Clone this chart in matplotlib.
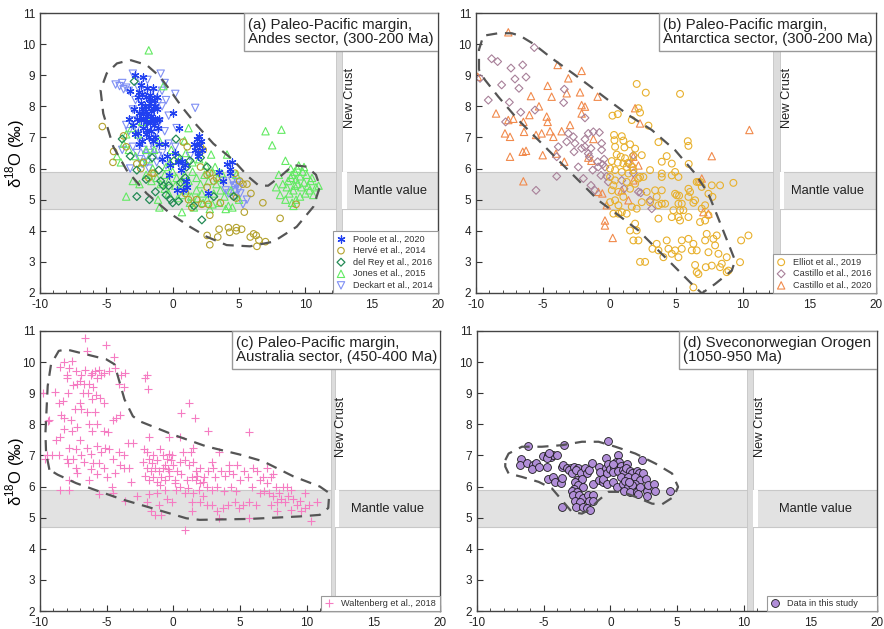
import numpy as np
import matplotlib
matplotlib.use("Agg")
import matplotlib.pyplot as plt
from matplotlib.patches import Rectangle
from matplotlib.ticker import MultipleLocator

plt.rcParams['font.family'] = ['Liberation Sans', 'DejaVu Sans']
plt.rcParams['axes.unicode_minus'] = False
plt.rcParams['mathtext.fontset'] = 'custom'
plt.rcParams['mathtext.rm'] = 'Liberation Sans'

# ---------------- panel (a) Andes sector ----------------
poole = [(-2.8, 9.0), (-2.2, 8.95), (-3.2, 8.5), (-2.6, 8.3), (-2.3, 8.4), (-2.0, 8.3), (-1.7, 8.35),
         (-1.4, 8.2), (-2.4, 8.1), (-2.1, 8.0), (-1.8, 8.0), (-1.5, 7.95), (-1.2, 7.9), (-2.5, 7.8),
         (-2.2, 7.75), (-1.9, 7.7), (-1.6, 7.7), (-1.3, 7.6), (-2.7, 7.6), (-2.4, 7.55), (-2.0, 7.5),
         (-1.7, 7.45), (-1.4, 7.4), (-2.2, 7.3), (-1.9, 7.25), (-1.6, 7.2), (-1.1, 7.3), (-3.0, 7.4),
         (-2.6, 7.15), (-1.8, 7.0), (-1.5, 8.6), (-1.9, 8.6), (-2.4, 8.7), (-1.2, 8.3), (-1.0, 7.6),
         (-1.3, 7.0), (-1.0, 6.8), (0.0, 7.8), (0.5, 7.3), (-0.4, 6.4), (-0.6, 6.8), (-0.2, 6.1),
         (0.4, 6.2), (0.7, 6.25), (0.9, 6.1), (0.6, 5.95), (1.0, 5.6), (0.8, 5.3), (1.6, 6.8),
         (1.8, 6.95), (2.0, 6.75), (1.9, 6.5), (1.9, 6.4), (2.1, 6.9), (2.2, 6.6), (1.7, 6.6),
         (2.0, 7.05), (3.5, 5.9), (4.1, 6.15), (4.3, 6.0), (4.5, 6.2), (4.3, 5.85), (3.8, 5.6),
         (-2.9, 7.9), (-3.3, 7.6), (-1.7, 8.1), (-2.3, 7.9), (-1.5, 7.55), (-2.0, 7.85), (-2.8, 7.1),
         (-2.5, 6.8), (-0.8, 6.3), (-1.5, 6.9), (-2.3, 6.9), (0.2, 6.5), (-0.3, 5.8), (0.3, 5.3),
         (2.7, 5.2), (1.1, 5.4), (-1.8, 8.25), (-2.1, 7.6), (-1.6, 7.85), (-2.5, 8.45), (-1.3, 8.0),
         (-2.0, 7.1), (-1.2, 7.55)]
herve = [(-5.3, 7.35), (-4.45, 6.55), (-4.5, 6.2), (-3.7, 7.05), (-3.5, 6.7), (-2.7, 6.15), (-2.4, 6.0),
         (-2.2, 6.2), (-1.8, 5.7), (-1.55, 5.85), (-1.4, 5.85), (0.8, 6.85), (1.1, 6.7), (2.1, 6.7),
         (2.3, 6.6), (2.1, 6.05), (2.6, 5.8), (2.8, 5.85), (3.1, 5.6), (3.3, 5.7), (2.6, 5.4),
         (0.95, 5.2), (1.2, 5.0), (1.45, 4.75), (1.8, 5.0), (2.2, 4.85), (2.7, 4.85), (2.8, 4.5),
         (3.6, 4.9), (4.6, 5.1), (4.7, 5.85), (4.8, 5.05), (5.05, 5.6), (5.3, 5.5), (5.4, 4.6),
         (5.6, 5.5), (5.9, 5.2), (6.8, 4.9), (8.1, 4.4), (9.3, 4.85), (2.6, 3.85), (2.8, 3.55),
         (3.4, 3.8), (3.5, 4.05), (4.2, 4.1), (4.3, 3.95), (4.8, 4.1), (4.8, 4.0), (5.2, 4.05),
         (5.85, 3.8), (6.1, 3.9), (6.3, 3.85), (6.5, 3.7), (6.35, 3.5), (7.0, 3.65)]
del_rey = [(-3.8, 6.95), (-2.7, 5.95), (-2.7, 5.1), (-1.75, 5.0), (-1.3, 5.25), (-0.7, 5.45),
           (-0.5, 5.15), (-0.15, 5.0), (0.0, 4.9), (0.45, 4.95), (0.25, 6.95), (-0.3, 5.45),
           (0.6, 5.55), (0.95, 5.7), (1.05, 6.05), (1.6, 4.8), (2.2, 4.35), (2.1, 6.35), (3.1, 5.1),
           (4.6, 5.1), (-1.55, 6.35), (-1.05, 5.95), (-0.9, 5.6), (0.1, 6.25), (0.45, 6.35),
           (1.3, 6.25), (2.6, 6.05), (-2.0, 5.65), (-2.9, 8.8), (-3.2, 6.4)]
jones = [(-1.8, 9.8), (-0.7, 8.65), (-2.3, 7.5), (-3.1, 7.3), (-3.7, 6.8), (-4.2, 6.4),
         (-3.9, 6.2), (-3.5, 5.1), (-3.0, 5.6), (-2.5, 5.5), (-2.0, 5.8), (-1.5, 6.0), (-1.8, 6.3),
         (-2.3, 6.2), (-2.8, 6.4), (-3.3, 6.6), (-3.5, 7.1), (-2.6, 7.1), (-1.2, 5.7), (-0.9, 5.5),
         (-0.6, 5.8), (-0.3, 5.6), (0.0, 5.9), (0.3, 5.7), (0.6, 5.5), (0.9, 5.8), (1.2, 5.6),
         (1.5, 5.9), (1.8, 5.7), (2.1, 5.5), (2.4, 5.8), (2.7, 5.6), (3.0, 5.9), (3.3, 5.5),
         (3.6, 5.3), (3.9, 5.1), (4.2, 4.8), (4.5, 4.75), (4.0, 4.7), (3.5, 4.9), (3.1, 5.2),
         (2.6, 5.0), (2.2, 5.2), (1.8, 5.3), (1.4, 5.1), (1.0, 5.3), (0.7, 5.15), (0.4, 5.05),
         (-0.3, 5.2), (-0.6, 5.35), (-1.1, 5.0), (-1.0, 4.75), (0.7, 4.6), (1.6, 4.75), (2.8, 4.7),
         (-0.2, 6.2), (0.5, 6.3), (1.0, 6.5), (1.5, 6.2), (2.0, 6.3), (2.5, 6.1), (2.9, 6.45),
         (3.2, 6.05), (3.7, 5.85), (4.1, 6.45), (4.8, 5.8), (1.2, 7.3), (0.9, 6.9), (-0.1, 6.6),
         (-1.0, 6.9), (-1.6, 7.6), (-1.4, 6.6), (-2.0, 6.6), (3.0, 4.85), (2.3, 4.9), (1.3, 4.9),
         (5.0, 5.0), (4.4, 5.3), (-1.6, 5.6), (-0.5, 6.05), (0.2, 5.45), (1.9, 5.05), (3.4, 5.7),
         (7.0, 7.2), (8.2, 7.25), (7.5, 6.75), (8.5, 6.25), (8.0, 5.8), (8.3, 5.5), (8.6, 5.4),
         (8.9, 5.7), (9.2, 5.9), (9.5, 6.1), (9.8, 5.9), (10.1, 5.8), (10.4, 5.6), (10.8, 5.4),
         (8.8, 5.2), (9.1, 5.3), (9.4, 5.5), (9.7, 5.4), (10.0, 5.2), (10.3, 5.3), (9.0, 4.9),
         (9.3, 5.0), (9.6, 5.1), (8.5, 5.0), (8.7, 5.6), (9.0, 5.8), (9.3, 5.65), (9.6, 5.75),
         (9.9, 5.55), (10.2, 5.45), (10.5, 5.7), (9.4, 6.0), (8.9, 6.0), (9.1, 4.8), (7.8, 5.4),
         (8.1, 5.15), (10.6, 5.15), (11.0, 5.45), (9.9, 6.05), (9.2, 5.45)]
deckart = [(-3.0, 9.05), (-3.8, 8.75), (-3.5, 8.6), (-3.3, 8.5), (-3.7, 8.55), (-2.4, 8.8), (-1.9, 8.85),
           (-0.9, 9.05), (-0.6, 8.75), (0.2, 8.4), (1.7, 7.95), (-3.0, 7.9), (-3.5, 7.4), (-3.3, 7.2),
           (-0.5, 8.2), (-0.8, 8.0), (-0.3, 7.7), (0.3, 7.3), (-1.0, 7.5), (-3.0, 6.7), (-2.7, 6.5),
           (-2.2, 6.6), (-2.0, 6.4), (-1.7, 6.5), (-1.4, 6.6), (-1.1, 6.4), (-0.8, 6.5), (-2.5, 6.3),
           (-1.9, 6.2), (-1.2, 6.2), (-0.5, 6.1), (-2.4, 6.85), (-1.6, 6.85), (-3.8, 6.6), (-3.2, 6.0),
           (0.7, 6.0), (1.3, 6.4), (4.2, 5.2), (4.6, 5.45), (4.7, 5.3), (4.8, 5.45), (5.1, 5.2),
           (4.9, 5.55), (5.3, 4.85), (5.6, 5.0), (4.7, 5.1), (4.5, 5.6), (3.8, 5.6), (4.0, 5.3),
           (5.0, 5.35), (-2.0, 8.5), (-2.6, 8.6), (-1.3, 8.4), (-0.8, 8.5), (-1.1, 8.1), (-2.8, 8.2),
           (-3.0, 7.55), (-2.7, 7.3), (-1.3, 7.1), (-0.6, 7.2), (0.2, 6.7), (-0.3, 6.8), (-4.3, 8.7),
           (-4.0, 8.65), (-1.8, 6.0), (-2.3, 6.15)]
env_a = [(-3.2, 9.49), (-1.96, 9.33), (-0.95, 8.95), (-0.2, 8.52), (0.68, 7.99), (1.8, 7.4), (3.07, 6.8),
         (4.57, 6.27), (5.7, 5.74), (6.5, 5.45), (7.2, 5.45), (8.1, 5.74), (9.1, 6.11), (10.1, 6.06),
         (10.8, 5.8), (11.1, 5.42), (10.6, 4.77), (9.35, 4.13), (7.6, 3.65), (5.83, 3.5), (4.07, 3.54),
         (2.56, 3.81), (1.3, 4.13), (-0.2, 4.56), (-1.96, 5.2), (-3.47, 5.95), (-4.47, 6.7),
         (-5.23, 7.77), (-5.43, 8.52), (-4.97, 9.06), (-4.2, 9.38), (-3.2, 9.49)]

# ---------------- panel (b) Antarctica sector ----------------
elliot = [(2.05, 8.72), (2.73, 8.44), (5.3, 8.4), (0.23, 7.7), (0.63, 7.75), (2.3, 7.8), (1.68, 7.56),
          (2.93, 7.38), (2.18, 7.94), (0.35, 7.08), (0.93, 7.04), (0.38, 6.91), (1.05, 6.9), (0.43, 6.7),
          (1.13, 6.68), (1.55, 6.78), (1.93, 6.64), (2.43, 6.43), (1.8, 6.4), (0.55, 6.45), (0.85, 6.38),
          (1.18, 6.33), (0.18, 6.24), (0.63, 6.19), (1.05, 6.16), (1.43, 6.19), (1.73, 6.05), (0.05, 6.0),
          (0.43, 5.95), (0.93, 5.89), (1.43, 5.84), (1.8, 5.95), (2.3, 5.73), (3.05, 5.95), (0.05, 5.73),
          (0.43, 5.62), (1.3, 5.57), (1.93, 5.51), (2.18, 5.68), (2.55, 5.73), (0.3, 5.46), (0.18, 5.3),
          (0.68, 5.25), (1.05, 5.09), (1.55, 5.35), (0.43, 4.98), (0.05, 4.92), (0.68, 4.82), (0.3, 4.55),
          (0.68, 4.55), (0.93, 4.6), (1.3, 4.55), (1.68, 4.77), (2.05, 4.71), (2.43, 4.92), (3.05, 4.92),
          (3.43, 5.3), (3.55, 5.09), (3.93, 4.87), (4.18, 4.87), (3.68, 4.39), (1.55, 4.01), (1.93, 4.23),
          (2.05, 4.01), (2.18, 3.69), (1.8, 3.69), (2.3, 3.0), (2.68, 3.0), (3.23, 3.42), (3.55, 3.58),
          (3.68, 3.37), (4.05, 3.15), (4.43, 3.42), (4.68, 3.26), (4.93, 3.37), (5.18, 3.15), (4.3, 3.69),
          (5.43, 3.69), (5.43, 3.42), (5.93, 3.74), (6.18, 3.37), (6.3, 3.58), (6.55, 3.37), (6.43, 2.9),
          (6.3, 2.18), (6.68, 2.61), (6.55, 2.67), (7.23, 2.83), (7.68, 2.88), (8.3, 2.83), (8.43, 2.94),
          (8.18, 3.26), (8.8, 3.15), (8.93, 2.72), (8.8, 2.67), (7.93, 3.53), (7.43, 3.31), (7.18, 3.69),
          (7.3, 3.9), (7.8, 3.74), (8.05, 3.85), (9.8, 2.99), (9.88, 3.69), (10.43, 3.85), (3.93, 6.22),
          (4.68, 6.16), (3.93, 5.73), (3.93, 5.84), (3.93, 5.3), (3.68, 4.82), (4.68, 5.78), (4.93, 5.19),
          (5.05, 5.14), (5.23, 5.13), (5.18, 4.87), (5.43, 4.87), (5.3, 4.66), (5.55, 4.66), (5.18, 4.44),
          (4.8, 4.66), (4.68, 4.44), (5.3, 4.33), (5.93, 5.35), (6.05, 5.25), (5.93, 5.09), (5.93, 4.44),
          (6.43, 4.98), (6.68, 5.57), (6.55, 5.57), (6.8, 5.57), (6.93, 5.41), (6.93, 4.71), (6.8, 4.28),
          (7.18, 4.33), (7.18, 4.82), (7.73, 5.09), (7.43, 4.5), (8.3, 5.46), (9.3, 5.54), (5.88, 6.88),
          (5.93, 6.73), (5.95, 6.15), (3.68, 6.85), (5.18, 5.73), (6.3, 4.9), (7.43, 5.19), (7.68, 5.46),
          (4.3, 6.4), (4.93, 5.89), (2.8, 5.25), (1.3, 6.05)]
castillo16 = [(-5.63, 9.89), (-8.83, 9.53), (-8.38, 9.44), (-7.38, 9.23), (-6.5, 9.33), (-6.25, 8.94),
              (-7.08, 8.88), (-6.78, 8.58), (-8.08, 8.69), (-9.08, 8.2), (-7.5, 8.13), (-6.65, 7.81),
              (-5.58, 7.88), (-3.38, 8.55), (-3.43, 8.12), (-7.78, 7.5), (-1.83, 7.63), (-3.08, 7.13),
              (-2.7, 7.02), (-3.2, 6.86), (-2.58, 6.81), (-1.58, 7.13), (-1.2, 7.18), (-0.75, 7.16),
              (-1.83, 6.94), (-2.08, 6.65), (-1.83, 6.7), (-1.38, 6.65), (-1.58, 6.48), (-1.5, 6.38),
              (-3.83, 6.7), (-3.95, 6.38), (-2.65, 6.54), (-2.33, 6.05), (-1.95, 5.68), (-3.95, 5.75),
              (-5.5, 5.3), (-1.38, 5.46), (-0.58, 6.81), (-0.58, 6.6), (-0.88, 6.22), (-0.5, 6.13),
              (-0.83, 6.05), (-0.33, 6.05), (-0.63, 5.78), (-0.2, 5.75), (-0.08, 5.57), (-1.08, 5.3),
              (1.8, 6.43), (1.43, 6.16), (1.8, 5.86), (0.93, 5.62), (2.18, 5.25), (2.35, 5.22),
              (3.05, 4.98), (3.18, 4.71), (1.1, 5.35), (-1.25, 5.95), (-9.7, 8.9), (-0.4, 6.3)]
castillo20 = [(-7.58, 10.38), (-9.87, 8.95), (-3.88, 9.33), (-2.08, 9.14), (-3.08, 8.9), (-3.2, 8.42),
              (-4.63, 8.66), (-4.33, 8.31), (-5.88, 8.33), (-5.28, 8.0), (-6.0, 7.72), (-6.45, 7.5),
              (-8.5, 7.77), (-7.58, 7.56), (-7.2, 7.6), (-7.83, 7.13), (-7.45, 7.02), (-6.4, 7.18),
              (-5.5, 7.08), (-5.08, 7.13), (-4.7, 7.67), (-4.63, 7.5), (-4.45, 7.2), (-4.2, 7.02),
              (-3.58, 7.2), (-2.95, 7.4), (-2.08, 7.77), (-2.08, 8.04), (-1.83, 7.99), (-0.88, 8.31),
              (-7.45, 6.38), (-6.5, 6.54), (-6.25, 6.57), (-5.0, 6.43), (-4.0, 6.48), (-3.38, 6.22),
              (-1.58, 6.35), (-6.45, 5.59), (1.93, 7.94), (2.3, 7.45), (2.18, 6.1), (-0.83, 5.25),
              (-0.53, 5.2), (-0.2, 4.82), (-0.33, 4.33), (-0.33, 4.17), (0.25, 3.77), (7.68, 6.4),
              (10.5, 7.24), (6.93, 5.68), (7.43, 4.55), (7.05, 4.6), (1.43, 4.98), (1.8, 6.38),
              (1.68, 6.16), (0.93, 5.3), (1.8, 5.62), (-1.2, 6.95), (-2.2, 8.45), (-1.35, 6.25)]
env_b = [(-9.78, 9.17), (-9.78, 9.82), (-9.45, 10.27), (-8.33, 10.35), (-7.33, 10.35), (-6.7, 10.27),
         (-5.7, 10.01), (-4.33, 9.55), (-2.58, 9.01), (-1.58, 8.69), (-0.08, 8.2), (1.43, 7.72),
         (3.18, 7.24), (4.93, 6.59), (6.43, 5.84), (7.43, 5.19), (8.43, 4.12), (9.43, 3.04),
         (9.18, 2.72), (7.93, 2.29), (6.93, 1.99), (6.18, 2.29), (4.93, 2.83), (3.43, 3.47),
         (2.18, 4.01), (0.68, 4.5), (-0.83, 4.98), (-2.08, 5.52), (-3.58, 6.16), (-5.08, 6.81),
         (-6.83, 7.56), (-8.33, 8.31), (-9.33, 8.85), (-9.78, 9.17)]

# ---------------- panel (c) Australia sector ----------------
waltenberg = [(-6.59, 10.79), (-5.03, 10.55), (-6.46, 10.36), (-4.46, 10.17),
              (-8.2, 10.0), (-7.6, 10.05), (-7.8, 9.8), (-8.5, 9.85), (-8.0, 9.6), (-7.3, 9.7), (-6.9, 9.6),
              (-6.6, 9.75), (-6.2, 9.6), (-5.9, 9.7), (-5.6, 9.75), (-5.2, 9.65), (-4.8, 9.7), (-4.4, 9.8),
              (-3.6, 9.65), (-3.9, 9.6), (-5.7, 9.5), (-6.3, 9.3), (-6.0, 9.2), (-6.7, 9.3), (-7.2, 9.3),
              (-7.5, 9.25), (-8.0, 9.5), (-7.9, 9.0), (-8.9, 9.05), (-6.8, 9.0), (-6.4, 9.0), (-5.8, 8.95),
              (-5.5, 8.85), (-5.2, 8.7), (-3.7, 9.2), (-4.1, 9.3), (-6.1, 8.8), (-7.0, 8.7), (-7.4, 8.5),
              (-6.9, 8.5), (-6.5, 8.4), (-5.9, 8.4), (-8.3, 8.75), (-8.4, 8.3), (-8.2, 8.2), (-7.7, 8.15),
              (-9.3, 8.15), (-4.3, 8.2), (-4.5, 8.15), (-4.0, 8.3), (-9.8, 9.0), (-9.4, 8.1), (-2.0, 9.6),
              (-2.1, 9.5), (-1.9, 9.15), (-6.1, 9.65), (-5.4, 9.6), (-7.0, 9.4), (-8.6, 8.7),
              (-9.5, 7.0), (-9.1, 7.0), (-8.6, 7.0), (-8.8, 7.5), (-8.5, 7.6), (-8.2, 7.85), (-7.6, 7.8),
              (-7.2, 7.9), (-7.0, 7.5), (-7.3, 7.2), (-7.8, 7.25), (-8.0, 6.9), (-7.9, 6.75), (-7.5, 6.9),
              (-7.3, 6.6), (-6.9, 7.0), (-6.5, 7.25), (-6.2, 7.05), (-6.0, 6.75), (-6.2, 6.55), (-6.7, 6.8),
              (-5.7, 7.3), (-5.4, 7.1), (-5.1, 7.25), (-4.8, 7.2), (-5.6, 6.75), (-5.2, 6.6), (-5.7, 6.4),
              (-6.1, 7.8), (-5.7, 8.0), (-5.2, 7.8), (-4.9, 7.75), (-6.3, 8.0), (-4.5, 6.9), (-4.1, 7.1),
              (-4.0, 6.7), (-4.4, 6.45), (-3.7, 6.6), (-3.7, 7.0), (-3.4, 7.4), (-3.0, 7.4), (-3.3, 6.6),
              (-3.2, 6.15), (-4.6, 6.0), (-5.0, 6.3), (-7.8, 6.2), (-7.2, 6.45), (-6.3, 6.2), (-8.5, 5.9),
              (-7.8, 5.9), (-5.6, 5.75), (-4.5, 5.8), (-3.6, 5.55), (-2.7, 5.7), (-9.6, 6.9),
              (-2.2, 7.2), (-2.0, 7.1), (-1.8, 6.9), (-1.5, 7.0), (-1.2, 6.85), (-1.0, 7.2), (-0.8, 7.0),
              (-0.5, 6.9), (-0.3, 7.05), (-2.3, 6.8), (-2.0, 6.6), (-1.7, 6.5), (-1.4, 6.6), (-1.1, 6.5),
              (-0.8, 6.6), (-0.6, 6.7), (-0.3, 6.5), (0.0, 6.7), (-2.1, 6.35), (-1.8, 6.2), (-1.5, 6.3),
              (-1.2, 6.15), (-0.9, 6.3), (-0.6, 6.2), (-0.3, 6.35), (0.1, 6.2), (0.3, 6.5), (0.5, 6.8),
              (0.7, 7.1), (0.9, 6.85), (1.2, 6.7), (1.5, 6.8), (1.7, 6.5), (2.0, 6.6), (1.4, 6.3),
              (1.7, 6.2), (2.0, 6.1), (2.3, 6.3), (2.6, 6.5), (2.9, 6.8), (2.5, 6.0), (1.1, 5.95),
              (0.5, 6.0), (0.2, 5.9), (1.5, 5.8), (1.9, 5.9), (3.1, 6.3), (3.3, 6.0), (3.6, 6.5),
              (3.9, 6.35), (4.2, 6.7), (4.5, 6.4), (4.8, 6.7), (5.0, 6.2), (5.3, 6.5), (5.6, 6.3),
              (5.9, 6.0), (4.7, 5.85), (4.3, 6.0), (3.8, 5.85), (2.9, 5.9), (6.7, 6.3), (7.0, 6.1),
              (7.3, 6.3), (7.5, 6.4), (7.7, 6.0), (7.9, 5.8), (8.2, 6.0), (8.5, 6.0), (8.8, 5.9),
              (7.2, 5.8), (6.8, 5.85), (6.5, 5.8), (7.5, 5.7), (7.8, 5.5), (8.1, 5.6), (8.4, 5.5),
              (9.0, 5.6), (9.3, 5.4), (9.6, 5.2), (9.9, 5.3), (10.2, 5.4), (10.8, 5.5), (10.3, 4.9),
              (7.8, 5.2), (7.3, 5.4), (8.8, 5.25), (9.5, 5.55), (9.9, 5.8), (7.0, 6.6), (6.3, 6.5),
              (5.7, 5.5), (5.2, 5.4), (4.6, 5.5), (4.1, 5.4), (3.7, 5.3), (3.3, 5.2), (2.9, 5.4),
              (2.0, 5.5), (1.4, 5.5), (1.4, 5.2), (0.9, 5.8), (-0.1, 5.5), (-0.5, 5.6), (-1.1, 5.4),
              (-1.4, 5.1), (-1.7, 5.2), (-2.0, 5.5), (-0.9, 5.1), (-1.8, 5.75), (0.9, 4.6), (5.7, 5.0),
              (3.4, 5.0), (2.5, 5.4), (4.9, 5.3), (6.2, 5.4), (0.1, 6.1), (0.5, 7.6), (-0.3, 7.6),
              (-1.8, 7.6), (-0.1, 7.0), (1.3, 7.1), (1.5, 7.25), (2.6, 7.8), (5.7, 7.75), (0.6, 8.35),
              (1.2, 8.7), (1.6, 8.2), (3.4, 7.1), (4.2, 6.5), (6.5, 6.2), (-1.2, 5.8), (-0.6, 5.9),
              (2.2, 5.7), (-1.0, 6.05), (-0.4, 6.55), (0.6, 6.4), (1.0, 6.2), (1.8, 6.35), (2.2, 6.15),
              (-1.6, 6.75), (-0.2, 6.85), (3.0, 6.6), (6.0, 6.6), (8.6, 5.7)]
env_c = [(-9.29, 6.54), (-9.54, 7.08), (-9.59, 7.72), (-9.42, 9.23), (-9.17, 9.93), (-8.59, 10.36),
         (-8.04, 10.41), (-6.54, 10.25), (-5.03, 10.09), (-4.41, 9.93), (-4.16, 9.55), (-3.66, 8.8),
         (-3.03, 8.26), (-2.53, 8.1), (-0.03, 7.67), (2.48, 7.29), (4.98, 7.03), (6.74, 6.81),
         (8.99, 6.33), (10.99, 6.0), (11.7, 5.79), (11.62, 5.31), (10.99, 5.09), (9.49, 5.04),
         (5.73, 4.96), (1.98, 4.93), (0.98, 4.98), (-0.53, 5.17), (-2.03, 5.36), (-3.78, 5.58),
         (-5.53, 5.84), (-7.29, 6.11), (-8.67, 6.38), (-9.29, 6.54)]

# ---------------- panel (d) Sveconorwegian Orogen ----------------
study = [(-6.15, 7.29), (-3.48, 7.32), (-0.15, 7.46), (-6.73, 6.87), (-6.78, 6.68), (-6.23, 6.76),
         (-5.78, 6.69), (-5.58, 6.76), (-5.9, 6.58), (-5.33, 6.63), (-5.03, 6.97), (-4.65, 7.03),
         (-4.45, 6.95), (-4.28, 7.01), (-4.03, 7.03), (-4.78, 6.92), (-4.6, 7.08), (-4.78, 6.63),
         (-4.65, 6.25), (-4.28, 6.31), (-4.15, 6.15), (-3.7, 6.12), (-3.65, 6.28), (-3.65, 6.63),
         (-3.53, 6.69), (-3.28, 6.61), (-2.98, 6.61), (-3.08, 6.53), (-2.9, 6.42), (-2.73, 6.63),
         (-2.4, 6.61), (-2.58, 6.53), (-2.23, 6.42), (-1.9, 6.61), (-1.73, 6.42), (-1.58, 6.53),
         (-2.53, 6.2), (-2.28, 6.15), (-2.15, 6.25), (-2.65, 6.15), (-2.4, 6.04), (-2.08, 5.98),
         (-2.73, 5.93), (-2.9, 5.86), (-2.48, 5.82), (-2.83, 5.72), (-2.35, 5.72), (-2.08, 5.64),
         (-2.65, 5.54), (-2.28, 5.49), (-1.65, 5.72), (-1.28, 5.72), (-1.58, 5.54), (-1.28, 5.54),
         (-2.58, 5.35), (-2.08, 5.33), (-1.73, 5.31), (-1.53, 5.24), (-3.65, 5.35), (-1.28, 6.09),
         (-1.4, 6.76), (-0.83, 6.63), (-0.78, 6.47), (-0.83, 6.2), (-0.58, 6.15), (-0.53, 6.25),
         (-0.33, 6.61), (-0.33, 6.93), (-0.15, 6.74), (-0.28, 6.42), (-0.03, 6.55), (0.28, 6.63),
         (0.23, 6.47), (-0.23, 6.08), (0.23, 6.15), (0.6, 7.0), (0.43, 6.78), (0.68, 6.79),
         (0.78, 6.66), (0.6, 6.5), (0.93, 6.52), (1.03, 6.42), (0.78, 6.31), (1.28, 6.74),
         (1.18, 6.61), (1.48, 6.5), (1.6, 6.42), (1.35, 6.31), (0.48, 5.98), (0.93, 6.09),
         (1.1, 6.17), (1.98, 6.5), (2.18, 6.42), (1.85, 6.31), (2.23, 6.2), (2.48, 6.42),
         (2.68, 6.25), (2.35, 6.85), (1.85, 6.09), (1.35, 5.98), (1.6, 6.04), (1.03, 5.87),
         (1.48, 5.83), (1.98, 5.83), (2.23, 6.0), (2.73, 5.87), (2.85, 6.04), (3.28, 6.09),
         (3.35, 5.85), (2.1, 5.75), (2.78, 5.7), (4.48, 5.85), (0.23, 6.71), (1.43, 6.15)]
env_d = [(-7.88, 6.85), (-7.63, 7.06), (-6.63, 7.28), (-5.13, 7.28), (-3.63, 7.33), (-2.13, 7.44),
         (-0.88, 7.44), (0.38, 7.28), (1.88, 7.06), (3.38, 6.74), (4.63, 6.42), (5.08, 5.99),
         (4.75, 5.67), (3.88, 5.43), (3.13, 5.45), (1.88, 5.67), (0.88, 5.83), (-0.13, 5.83),
         (-0.88, 5.56), (-1.63, 5.24), (-2.13, 5.13), (-2.88, 5.18), (-3.63, 5.56), (-4.38, 5.94),
         (-5.38, 6.15), (-6.63, 6.31), (-7.63, 6.42), (-7.88, 6.64), (-7.88, 6.85)]

titles = ['(a) Paleo-Pacific margin,\nAndes sector, (300-200 Ma)',
          '(b) Paleo-Pacific margin,\nAntarctica sector, (300-200 Ma)',
          '(c) Paleo-Pacific margin,\nAustralia sector, (450-400 Ma)',
          '(d) Sveconorwegian Orogen\n(1050-950 Ma)']
title_box_left = [5.4, 3.73, 4.41, 5.13]
legend_left = [12.1, 12.3, 11.07, 11.75]
crust_band = [(12.33, 12.8), (12.3, 12.78), (11.8, 12.1), (10.25, 10.7)]
crust_label_x = [13.35, 13.3, 12.6, 11.25]
crust_label_y = [8.26, 8.26, 7.9, 7.9]
mantle_lo, mantle_hi = 4.7, 5.9


def xy(pts):
    a = np.array(pts)
    return a[:, 0], a[:, 1]


def base_axes(ax, i, ylabel):
    ax.set_xlim(-10, 20)
    ax.set_ylim(2, 11)
    ax.xaxis.set_major_locator(MultipleLocator(5))
    ax.xaxis.set_minor_locator(MultipleLocator(1))
    ax.yaxis.set_major_locator(MultipleLocator(1))
    ax.tick_params(which='both', direction='in', top=False, right=False, labelsize=8.5,
                   colors='#333333', labelcolor='#222222')
    ax.tick_params(axis='x', pad=4)
    ax.tick_params(which='major', length=4)
    ax.tick_params(which='minor', length=2.5)
    for s in ax.spines.values():
        s.set_color('#444444')
        s.set_linewidth(1.0)
    # mantle band
    ax.axhspan(mantle_lo, mantle_hi, facecolor='#e2e2e2', edgecolor='#c8c8c8', lw=0.8, zorder=0.5)
    ax.text(crust_band[i][1] + (20 - crust_band[i][1]) / 2, 5.27, 'Mantle value', fontsize=9.3,
            ha='center', va='center', color='#222222', zorder=1)
    # new crust band
    b0, b1 = crust_band[i]
    ax.add_patch(Rectangle((b0, 2), b1 - b0, 7.8, facecolor='#dcdcdc', edgecolor='#c4c4c4',
                           lw=0.6, zorder=0.6))
    ax.add_patch(Rectangle((b1, mantle_lo), 0.35, mantle_hi - mantle_lo, facecolor='white',
                           edgecolor='none', zorder=0.6))
    ax.text(crust_label_x[i], crust_label_y[i], 'New Crust', rotation=90, fontsize=9.3,
            ha='center', va='center', color='#222222')
    # title box
    x0 = title_box_left[i]
    ax.add_patch(Rectangle((x0, 9.78), 20 - x0, 11 - 9.78, facecolor='white', edgecolor='#999999',
                           lw=1.0, zorder=4))
    ax.text(x0 + 0.3, 10.4, titles[i], fontsize=10.8, ha='left', va='center', color='#222222',
            linespacing=1.0, zorder=5)
    if ylabel:
        ax.set_ylabel('δ$^{18}$O (‰)', fontsize=12)
        ax.yaxis.set_label_coords(-0.033, 0.5)


def envelope(ax, pts):
    ex, ey = xy(pts)
    ax.plot(ex, ey, color='#555555', lw=1.6, dashes=(5, 3.5), zorder=3)


def add_legend(ax, i, handles):
    fx = (legend_left[i] + 10) / 30
    leg = ax.legend(handles=handles, loc='lower left', bbox_to_anchor=(fx, 0, 1 - fx, 0),
                    mode='expand', borderaxespad=0, fontsize=6.6,
                    frameon=True, fancybox=False, edgecolor='#999999', framealpha=1,
                    handlelength=1.0, handletextpad=0.8, labelspacing=0.28, borderpad=0.35,
                    scatterpoints=1)
    leg.get_frame().set_linewidth(0.8)
    leg.set_zorder(6)
    for t in leg.get_texts():
        t.set_color('#333333')


fig = plt.figure(figsize=(8.84, 6.29), dpi=100)
ax_a = fig.add_axes([0.0452, 0.5342, 0.4503, 0.4451])
ax_b = fig.add_axes([0.5385, 0.5342, 0.4525, 0.4451])
ax_c = fig.add_axes([0.0452, 0.0286, 0.4525, 0.4452])
ax_d = fig.add_axes([0.5396, 0.0286, 0.4525, 0.4452])

# (a)
ax = ax_a
base_axes(ax, 0, True)
x, y = xy(deckart)
h_deck = ax.scatter(x, y, marker='v', s=28, facecolors='none', edgecolors='#7f8ff4', lw=0.8,
                    zorder=2, label='Deckart et al., 2014')
x, y = xy(jones)
h_jones = ax.scatter(x, y, marker='^', s=28, facecolors='none', edgecolors='#62ea62', lw=0.8,
                     zorder=2, label='Jones et al., 2015')
x, y = xy(herve)
h_herve = ax.scatter(x, y, marker='o', s=22, facecolors='none', edgecolors='#b3a12c', lw=0.8,
                     zorder=2, label='Hervé et al., 2014')
x, y = xy(del_rey)
h_rey = ax.scatter(x, y, marker='D', s=16, facecolors='none', edgecolors='#238a55', lw=0.9,
                   zorder=2, label='del Rey et al., 2016')
x, y = xy(poole)
h_poole = ax.scatter(x, y, marker=(6, 2, 0), s=26, color='#2040f0', lw=0.9, zorder=2,
                     label='Poole et al., 2020')
envelope(ax, env_a)
add_legend(ax, 0, [h_poole, h_herve, h_rey, h_jones, h_deck])

# (b)
ax = ax_b
base_axes(ax, 1, False)
x, y = xy(castillo20)
h_c20 = ax.scatter(x, y, marker='^', s=28, facecolors='none', edgecolors='#f18a4c', lw=0.8,
                   zorder=2, label='Castillo et al., 2020')
x, y = xy(castillo16)
h_c16 = ax.scatter(x, y, marker='D', s=16, facecolors='none', edgecolors='#a88099', lw=0.8,
                   zorder=2, label='Castillo et al., 2016')
x, y = xy(elliot)
h_ell = ax.scatter(x, y, marker='o', s=24, facecolors='none', edgecolors='#e8b02c', lw=0.8,
                   zorder=2, label='Elliot et al., 2019')
envelope(ax, env_b)
add_legend(ax, 1, [h_ell, h_c16, h_c20])

# (c)
ax = ax_c
base_axes(ax, 2, True)
x, y = xy(waltenberg)
h_wal = ax.scatter(x, y, marker='+', s=32, color='#f57cc2', lw=0.8, zorder=2,
                   label='Waltenberg et al., 2018')
envelope(ax, env_c)
add_legend(ax, 2, [h_wal])

# (d)
ax = ax_d
base_axes(ax, 3, False)
x, y = xy(study)
h_std = ax.scatter(x, y, marker='o', s=32, facecolors='#b18ed8', edgecolors='#1a1a1a', lw=0.6,
                   zorder=2, label='Data in this study')
envelope(ax, env_d)
add_legend(ax, 3, [h_std])

fig.savefig('out.png', dpi=100)
